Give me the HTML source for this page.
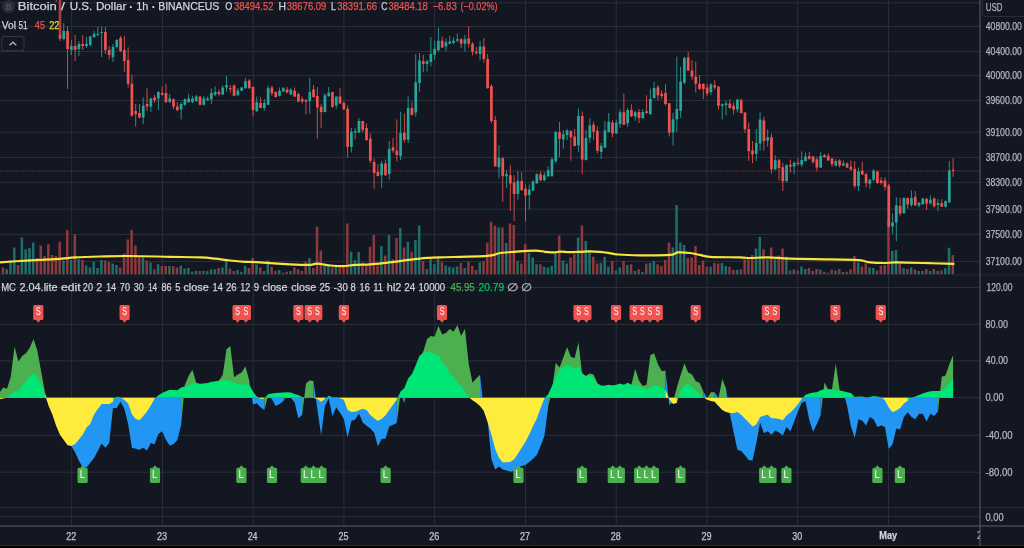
<!DOCTYPE html>
<html><head><meta charset="utf-8"><title>BTCUSD chart</title>
<style>
html,body{margin:0;padding:0;background:#131722;}
body{width:1024px;height:548px;overflow:hidden;position:relative;}
svg.main{position:absolute;left:0;top:0;}
.lb{font:10px "Liberation Sans",Arial,sans-serif;fill:#fff;}
.ax{font:9.8px "Liberation Sans",Arial,sans-serif;fill:#b2b5be;}
.tx{font:10.3px "Liberation Sans",Arial,sans-serif;fill:#b2b5be;text-anchor:middle;}
.t{font-family:"Liberation Sans",Arial,sans-serif;stroke-width:0.25px;}
</style></head>
<body>
<svg class="main" width="1024" height="548" viewBox="0 0 1024 548">
<rect width="1024" height="548" fill="#131722"/>
<path d="M0 2.8H980M0 26.5H980M0 51.5H980M0 75.5H980M0 100.5H980M0 132.2H980M0 157.4H980M0 182.4H980M0 209.1H980M0 234.4H980M0 261.4H980M0 287.4H980M0 324.4H980M0 360.8H980M0 397.7H980M0 435.3H980M0 472.2H980M0 516.6H980M71.7 0V525.5M162.45 0V525.5M253.2 0V525.5M343.95 0V525.5M434.7 0V525.5M525.45 0V525.5M616.2 0V525.5M706.95 0V525.5M797.7 0V525.5M888.45 0V525.5" stroke="#2b2f3c" stroke-width="1" fill="none"/>
<path d="M5.47 269.3h2.5V274.3h-2.5zM9.25 259.9h2.5V274.3h-2.5zM13.04 247.4h2.5V274.3h-2.5zM20.61 237.4h2.5V274.3h-2.5zM24.39 249.3h2.5V274.3h-2.5zM28.18 248h2.5V274.3h-2.5zM31.96 242.4h2.5V274.3h-2.5zM62.23 260.5h2.5V274.3h-2.5zM69.8 259.9h2.5V274.3h-2.5zM77.37 259.3h2.5V274.3h-2.5zM84.94 265.5h2.5V274.3h-2.5zM88.72 267.4h2.5V274.3h-2.5zM92.51 261.8h2.5V274.3h-2.5zM96.29 268h2.5V274.3h-2.5zM100.08 259.9h2.5V274.3h-2.5zM111.43 263.6h2.5V274.3h-2.5zM115.21 264.9h2.5V274.3h-2.5zM141.7 257.4h2.5V274.3h-2.5zM149.27 262.4h2.5V274.3h-2.5zM156.84 264.3h2.5V274.3h-2.5zM168.19 266.1h2.5V274.3h-2.5zM179.55 265.5h2.5V274.3h-2.5zM183.33 268.6h2.5V274.3h-2.5zM187.12 268h2.5V274.3h-2.5zM190.9 271.8h2.5V274.3h-2.5zM194.68 271.1h2.5V274.3h-2.5zM202.25 271.1h2.5V274.3h-2.5zM206.04 271.1h2.5V274.3h-2.5zM209.82 269.3h2.5V274.3h-2.5zM213.61 269.3h2.5V274.3h-2.5zM221.17 267.4h2.5V274.3h-2.5zM224.96 261.1h2.5V274.3h-2.5zM236.31 269.9h2.5V274.3h-2.5zM240.1 271.8h2.5V274.3h-2.5zM243.88 266.1h2.5V274.3h-2.5zM255.23 264.6h2.5V274.3h-2.5zM262.8 271.1h2.5V274.3h-2.5zM266.59 260.5h2.5V274.3h-2.5zM277.94 269.9h2.5V274.3h-2.5zM281.72 272.8h2.5V274.3h-2.5zM289.29 271.1h2.5V274.3h-2.5zM308.21 258h2.5V274.3h-2.5zM323.35 263.6h2.5V274.3h-2.5zM327.14 264.3h2.5V274.3h-2.5zM334.7 266.8h2.5V274.3h-2.5zM349.84 251.8h2.5V274.3h-2.5zM353.63 259.9h2.5V274.3h-2.5zM357.41 251.8h2.5V274.3h-2.5zM380.12 246.1h2.5V274.3h-2.5zM387.68 234.9h2.5V274.3h-2.5zM399.04 228h2.5V274.3h-2.5zM406.61 241.8h2.5V274.3h-2.5zM414.17 239.9h2.5V274.3h-2.5zM417.96 225.5h2.5V274.3h-2.5zM425.53 269h2.5V274.3h-2.5zM429.31 259.3h2.5V274.3h-2.5zM433.1 264.3h2.5V274.3h-2.5zM436.88 258.6h2.5V274.3h-2.5zM444.45 265.5h2.5V274.3h-2.5zM448.23 266.8h2.5V274.3h-2.5zM452.02 267.4h2.5V274.3h-2.5zM455.8 266.5h2.5V274.3h-2.5zM463.37 268h2.5V274.3h-2.5zM478.51 262.4h2.5V274.3h-2.5zM497.43 227.4h2.5V274.3h-2.5zM505 243h2.5V274.3h-2.5zM516.35 261.1h2.5V274.3h-2.5zM527.7 253h2.5V274.3h-2.5zM531.49 257.4h2.5V274.3h-2.5zM535.27 264.3h2.5V274.3h-2.5zM542.84 266.8h2.5V274.3h-2.5zM546.62 267.4h2.5V274.3h-2.5zM550.41 265.8h2.5V274.3h-2.5zM554.19 253.6h2.5V274.3h-2.5zM561.76 260.5h2.5V274.3h-2.5zM565.55 263.6h2.5V274.3h-2.5zM576.9 237.4h2.5V274.3h-2.5zM584.47 241.1h2.5V274.3h-2.5zM588.25 249.9h2.5V274.3h-2.5zM599.6 263h2.5V274.3h-2.5zM603.39 256.8h2.5V274.3h-2.5zM607.17 266.8h2.5V274.3h-2.5zM614.74 270.5h2.5V274.3h-2.5zM618.53 267.4h2.5V274.3h-2.5zM626.1 264.9h2.5V274.3h-2.5zM633.66 271.1h2.5V274.3h-2.5zM641.23 271.8h2.5V274.3h-2.5zM648.8 263h2.5V274.3h-2.5zM652.59 261.1h2.5V274.3h-2.5zM671.51 247.4h2.5V274.3h-2.5zM675.29 205h2.5V274.3h-2.5zM679.08 242.4h2.5V274.3h-2.5zM682.86 244.9h2.5V274.3h-2.5zM709.35 266.8h2.5V274.3h-2.5zM720.7 263h2.5V274.3h-2.5zM724.49 266.1h2.5V274.3h-2.5zM735.84 269.9h2.5V274.3h-2.5zM754.76 248.6h2.5V274.3h-2.5zM758.55 236.8h2.5V274.3h-2.5zM766.11 259.3h2.5V274.3h-2.5zM773.68 259.3h2.5V274.3h-2.5zM785.04 256.8h2.5V274.3h-2.5zM792.6 269.5h2.5V274.3h-2.5zM800.17 266.5h2.5V274.3h-2.5zM803.96 269h2.5V274.3h-2.5zM819.09 269.5h2.5V274.3h-2.5zM834.23 270.5h2.5V274.3h-2.5zM841.8 272h2.5V274.3h-2.5zM856.94 262.4h2.5V274.3h-2.5zM868.29 267.4h2.5V274.3h-2.5zM872.07 268h2.5V274.3h-2.5zM891 251h2.5V274.3h-2.5zM894.78 250h2.5V274.3h-2.5zM902.35 268.2h2.5V274.3h-2.5zM909.92 267.4h2.5V274.3h-2.5zM917.49 271.1h2.5V274.3h-2.5zM921.27 271.1h2.5V274.3h-2.5zM928.84 271.1h2.5V274.3h-2.5zM936.41 271.1h2.5V274.3h-2.5zM943.98 268.2h2.5V274.3h-2.5zM947.76 247.8h2.5V274.3h-2.5z" fill="#1f6e69"/>
<path d="M1.69 267.4h2.5V274.3h-2.5zM16.82 264.9h2.5V274.3h-2.5zM35.74 258h2.5V274.3h-2.5zM39.53 245.5h2.5V274.3h-2.5zM43.31 256.1h2.5V274.3h-2.5zM47.1 244.3h2.5V274.3h-2.5zM50.88 254.9h2.5V274.3h-2.5zM54.67 256.1h2.5V274.3h-2.5zM58.45 241.8h2.5V274.3h-2.5zM66.02 229.9h2.5V274.3h-2.5zM73.59 234.3h2.5V274.3h-2.5zM81.16 259.9h2.5V274.3h-2.5zM103.86 260.5h2.5V274.3h-2.5zM107.65 261.8h2.5V274.3h-2.5zM119 267.4h2.5V274.3h-2.5zM122.78 253.6h2.5V274.3h-2.5zM126.57 239.5h2.5V274.3h-2.5zM130.35 229.9h2.5V274.3h-2.5zM134.14 245.5h2.5V274.3h-2.5zM137.92 257.4h2.5V274.3h-2.5zM145.49 260.5h2.5V274.3h-2.5zM153.06 269.3h2.5V274.3h-2.5zM160.63 266.1h2.5V274.3h-2.5zM164.41 266.1h2.5V274.3h-2.5zM171.98 266.1h2.5V274.3h-2.5zM175.76 267.4h2.5V274.3h-2.5zM198.47 271.1h2.5V274.3h-2.5zM217.39 268h2.5V274.3h-2.5zM228.74 268.6h2.5V274.3h-2.5zM232.53 271.1h2.5V274.3h-2.5zM247.66 268h2.5V274.3h-2.5zM251.45 258h2.5V274.3h-2.5zM259.02 267.4h2.5V274.3h-2.5zM270.37 266.8h2.5V274.3h-2.5zM274.16 271.1h2.5V274.3h-2.5zM285.51 271.8h2.5V274.3h-2.5zM293.08 267.4h2.5V274.3h-2.5zM296.86 269.3h2.5V274.3h-2.5zM300.65 271.1h2.5V274.3h-2.5zM304.43 261.8h2.5V274.3h-2.5zM312 268h2.5V274.3h-2.5zM315.78 226.8h2.5V274.3h-2.5zM319.57 250.5h2.5V274.3h-2.5zM330.92 267.4h2.5V274.3h-2.5zM338.49 267.4h2.5V274.3h-2.5zM342.27 266.8h2.5V274.3h-2.5zM346.06 223.6h2.5V274.3h-2.5zM361.19 262.4h2.5V274.3h-2.5zM364.98 265.5h2.5V274.3h-2.5zM368.76 246.8h2.5V274.3h-2.5zM372.55 234.9h2.5V274.3h-2.5zM376.33 265.5h2.5V274.3h-2.5zM383.9 255.5h2.5V274.3h-2.5zM391.47 259.3h2.5V274.3h-2.5zM395.25 238h2.5V274.3h-2.5zM402.82 247.4h2.5V274.3h-2.5zM410.39 251.8h2.5V274.3h-2.5zM421.74 261.1h2.5V274.3h-2.5zM440.66 261.8h2.5V274.3h-2.5zM459.59 263h2.5V274.3h-2.5zM467.15 261.8h2.5V274.3h-2.5zM470.94 265.8h2.5V274.3h-2.5zM474.72 269.9h2.5V274.3h-2.5zM482.29 261.1h2.5V274.3h-2.5zM486.08 242.4h2.5V274.3h-2.5zM489.86 221.8h2.5V274.3h-2.5zM493.64 225.5h2.5V274.3h-2.5zM501.21 227.4h2.5V274.3h-2.5zM508.78 223.6h2.5V274.3h-2.5zM512.57 224.9h2.5V274.3h-2.5zM520.13 263.6h2.5V274.3h-2.5zM523.92 244.3h2.5V274.3h-2.5zM539.06 264.3h2.5V274.3h-2.5zM557.98 235.5h2.5V274.3h-2.5zM569.33 257.4h2.5V274.3h-2.5zM573.11 254.3h2.5V274.3h-2.5zM580.68 225.5h2.5V274.3h-2.5zM592.04 256.8h2.5V274.3h-2.5zM595.82 263.6h2.5V274.3h-2.5zM610.96 261.1h2.5V274.3h-2.5zM622.31 261.1h2.5V274.3h-2.5zM629.88 264.3h2.5V274.3h-2.5zM637.45 269.3h2.5V274.3h-2.5zM645.02 263.6h2.5V274.3h-2.5zM656.37 264.3h2.5V274.3h-2.5zM660.15 266.1h2.5V274.3h-2.5zM663.94 259.9h2.5V274.3h-2.5zM667.72 242.4h2.5V274.3h-2.5zM686.64 258h2.5V274.3h-2.5zM690.43 257.4h2.5V274.3h-2.5zM694.21 246.1h2.5V274.3h-2.5zM698 264.9h2.5V274.3h-2.5zM701.78 260.5h2.5V274.3h-2.5zM705.57 266.8h2.5V274.3h-2.5zM713.13 263h2.5V274.3h-2.5zM716.92 263.6h2.5V274.3h-2.5zM728.27 266.8h2.5V274.3h-2.5zM732.06 269.9h2.5V274.3h-2.5zM739.62 269.3h2.5V274.3h-2.5zM743.41 259.3h2.5V274.3h-2.5zM747.19 259.3h2.5V274.3h-2.5zM750.98 254.9h2.5V274.3h-2.5zM762.33 249.3h2.5V274.3h-2.5zM769.9 247.4h2.5V274.3h-2.5zM777.47 255.5h2.5V274.3h-2.5zM781.25 248.6h2.5V274.3h-2.5zM788.82 270.5h2.5V274.3h-2.5zM796.39 270.5h2.5V274.3h-2.5zM807.74 268h2.5V274.3h-2.5zM811.53 271.1h2.5V274.3h-2.5zM815.31 269h2.5V274.3h-2.5zM822.88 271.8h2.5V274.3h-2.5zM826.66 272.8h2.5V274.3h-2.5zM830.45 269.6h2.5V274.3h-2.5zM838.02 269h2.5V274.3h-2.5zM845.58 271.8h2.5V274.3h-2.5zM849.37 269.6h2.5V274.3h-2.5zM853.15 256.1h2.5V274.3h-2.5zM860.72 266.5h2.5V274.3h-2.5zM864.51 263.6h2.5V274.3h-2.5zM875.86 270.5h2.5V274.3h-2.5zM879.64 265.8h2.5V274.3h-2.5zM883.43 264.9h2.5V274.3h-2.5zM887.21 222h2.5V274.3h-2.5zM898.56 263.9h2.5V274.3h-2.5zM906.13 268.9h2.5V274.3h-2.5zM913.7 269.5h2.5V274.3h-2.5zM925.05 268.9h2.5V274.3h-2.5zM932.62 268.9h2.5V274.3h-2.5zM940.19 270.4h2.5V274.3h-2.5zM951.54 255h2.5V274.3h-2.5z" fill="#8c3a3d"/>
<path d="M0 262.4C3.33 262.17 13.33 261.42 20 261C26.67 260.58 33 260.3 40 259.9C47 259.5 56.17 259.02 62 258.6C67.83 258.18 68.67 257.75 75 257.4C81.33 257.05 91.17 256.73 100 256.5C108.83 256.27 116.33 255.95 128 256C139.67 256.05 158 256.57 170 256.8C182 257.03 192.5 257.1 200 257.4C207.5 257.7 210 258.08 215 258.6C220 259.12 225 259.97 230 260.5C235 261.03 240.67 261.52 245 261.8C249.33 262.08 248.5 261.78 256 262.2C263.5 262.62 281 263.85 290 264.3C299 264.75 305.5 265.02 310 264.9C314.5 264.78 313.67 263.5 317 263.6C320.33 263.7 325.67 265.08 330 265.5C334.33 265.92 338.83 266.2 343 266.1C347.17 266 350.5 265.2 355 264.9C359.5 264.6 365.17 264.62 370 264.3C374.83 263.98 379 263.53 384 263C389 262.47 394 261.83 400 261.1C406 260.37 413.33 259.22 420 258.6C426.67 257.98 433.33 257.7 440 257.4C446.67 257.1 452.5 257.02 460 256.8C467.5 256.58 479.33 256.42 485 256.1C490.67 255.78 491.5 255.42 494 254.9C496.5 254.38 497 253.48 500 253C503 252.52 506.17 252.4 512 252C517.83 251.6 529.5 250.63 535 250.6C540.5 250.57 541.67 251.5 545 251.8C548.33 252.1 552.5 252.42 555 252.4C557.5 252.38 557.5 251.75 560 251.7C562.5 251.65 566.67 252.08 570 252.1C573.33 252.12 576.67 251.93 580 251.8C583.33 251.67 586.67 251.3 590 251.3C593.33 251.3 597 251.55 600 251.8C603 252.05 605 252.35 608 252.8C611 253.25 612.67 254.08 618 254.5C623.33 254.92 631.33 255.23 640 255.3C648.67 255.37 663.67 255.38 670 254.9C676.33 254.42 674.67 252.72 678 252.4C681.33 252.08 686.33 252.58 690 253C693.67 253.42 696.67 254.27 700 254.9C703.33 255.53 703.33 256.38 710 256.8C716.67 257.22 733.33 257.2 740 257.4C746.67 257.6 745.33 258 750 258C754.67 258 761.33 257.3 768 257.4C774.67 257.5 779.67 258.28 790 258.6C800.33 258.92 819.17 259.08 830 259.3C840.83 259.52 849.67 259.7 855 259.9C860.33 260.1 859.5 260.08 862 260.5C864.5 260.92 866.17 261.98 870 262.4C873.83 262.82 880.67 263 885 263C889.33 263 888.5 262.37 896 262.4C903.5 262.43 920.42 262.95 930 263.2C939.58 263.45 949.58 263.78 953.5 263.9" fill="none" stroke="#f7e43c" stroke-width="2.2" stroke-linejoin="round" stroke-linecap="round"/>
<path d="M63.78 23V40.5M71.35 40V55M78.92 41V56M86.49 37V48M90.27 36V46.5M94.06 31V38M97.84 27V36.5M101.63 26.5V57M112.98 44V62M116.76 39V48.5M143.25 97.5V124M150.82 97.5V112M158.39 91V110M169.74 93.9V103M181.1 102V119.4M184.88 98.4V105.7M188.67 93.9V103M192.45 95.7V103M196.23 94.8V102M203.8 95.7V105.5M207.59 96.6V101M211.37 88.4V104M215.16 86.6V96M222.72 85.6V95.2M226.51 76V91.4M237.86 88.2V95.5M241.65 87V91M245.43 78V88.8M256.78 96.5V111.8M264.35 99V110.8M268.14 85.6V105M279.49 87.5V96.5M283.27 87V92M290.84 88.2V95.2M309.76 78V113.7M324.9 93.4V112.5M328.69 87V97M336.25 96.6V108.7M351.39 128V152.5M355.18 128V139.4M358.96 118.3V133M381.67 160.7V188.2M389.23 140.9V179.4M400.59 111.7V160M408.16 96.4V143M415.72 54V116.8M419.51 53.2V91.6M427.08 59.8V71.4M430.86 37.1V66.3M434.65 40.8V59.8M438.43 27.6V51.7M446 38.6V51M449.78 35.7V44.5M453.57 37.1V44.4M457.35 33.5V42.2M464.92 35V51.7M480.06 40.7V60.4M498.98 145V178.3M506.55 170.2V187.8M517.9 171.2V199.6M529.25 184.6V209.5M533.04 180.3V190.5M536.82 173.3V184M544.39 172.2V181.3M548.17 166.2V177.3M551.96 157.2V176.5M555.74 131V163.2M563.31 130V148.7M567.1 129.1V140M578.45 108.7V151.9M586.02 129.9V160.5M589.8 118.2V142.8M601.15 143V159M604.94 121.1V147.8M608.72 113V132.5M616.29 119.6V134M620.08 109.4V127.7M627.64 108V127M635.21 110.9V120.8M642.78 109.1V119.3M650.35 88.7V114.5M654.14 82.1V98.5M673.06 112.8V145.6M676.84 56.6V132M680.63 66.8V117.9M684.41 56.6V84M710.9 83.1V94.8M722.25 103.6V119.6M726.04 100.7V115.3M737.39 99.2V112.3M756.31 129V160.9M760.1 112.3V150.6M767.66 129.4V146.7M775.23 155.1V170M786.59 164V181.8M794.15 161.5V174.3M801.72 151.4V166.7M805.51 152.7V161.5M820.64 152.1V168.1M835.78 159.2V166.8M843.35 160.4V166M858.49 167.5V191M869.84 178.9V188.7M873.62 169V181.3M892.55 213.4V233.9M896.33 197V241.3M903.9 197.5V213.5M911.47 190.3V206.8M919.04 201.8V207.2M922.82 197.8V205M930.39 195.3V204.3M937.96 199.2V211.3M945.53 200.4V207.5M949.31 160.9V202.6" stroke="#26a69a" stroke-opacity="0.85" stroke-width="1" fill="none"/>
<path d="M60 -5V41M67.57 26.5V89M75.14 35V61M82.71 35.5V50M105.41 27V54M109.2 46V59M120.55 36V52M124.33 36V72M128.12 47.3V87.5M131.9 74.7V116.7M135.69 104V126.7M139.47 104V118.5M147.04 88.4V111M154.61 94.8V103M162.18 86.6V95.7M165.96 83.8V103M173.53 98.4V109.4M177.31 102V111.2M200.02 96.6V105.5M218.94 89.5V96.5M230.29 85V92.6M234.08 84.3V96.2M249.22 79.2V88.8M253 86.3V116.3M260.57 97.1V108.2M271.92 85.6V95.8M275.71 91.4V97.8M287.06 87V93.3M294.63 87.5V97.1M298.41 92.6V102.2M302.2 96.5V103.5M305.98 99V114.4M313.55 85V97.8M317.33 87V138.7M321.12 103.6V128M332.47 91.5V108M340.04 88.3V104M343.82 101V110M347.61 105.5V157.5M362.74 120.9V132.4M366.53 123.4V141M370.31 133.3V163M374.1 158.4V188.7M377.88 164.2V176.5M385.45 159.5V176M393.02 138V153M396.8 119.4V161.3M404.37 113.6V142.6M411.94 101.5V115.5M423.29 54.7V72.2M442.21 36.4V48M461.14 37.9V48M468.7 26.2V47.4M472.49 42.2V55.4M476.27 47V54.6M483.84 38V62.6M487.63 53.9V88.5M491.41 84.5V123M495.19 116V166.5M502.76 157.2V201.9M510.33 165.2V211M514.12 175.3V221M521.68 172.2V191M525.47 184.2V221M540.61 171.2V181.3M559.53 122V157.2M570.88 129.9V160.7M574.66 129.1V146.5M582.23 111.6V174.4M593.59 121.8V140M597.37 126.2V153.5M612.51 120.4V137.2M623.86 93.4V125M631.43 104.3V117M639 109.1V123M646.57 95.3V113.5M657.92 85V100.4M661.7 90.1V98.9M665.49 84.3V105.5M669.27 103V136.5M688.19 52.2V71M691.98 60.2V79.8M695.76 61.7V92.5M699.55 75.1V89.7M703.33 83.1V99.2M707.12 83.9V96.3M714.68 80.2V89.7M718.47 86V109.4M729.82 99.2V108.5M733.61 102.1V114.5M741.17 98.5V113.5M744.96 112.3V132.8M748.74 122.6V160.9M752.53 141V163.4M763.88 116.7V150.6M771.45 133.4V173.6M779.02 159V180.7M782.8 162.8V191M790.37 159.6V172.4M797.94 158.3V166M809.29 151.7V159.8M813.08 156V163.6M816.86 156.6V171.3M824.43 154V157.5M828.21 153.4V160.8M832 157.9V166.8M839.57 159.2V167.5M847.13 162.3V168M850.92 160.4V170.7M854.7 161.1V188.5M862.27 161.6V175M866.06 172.8V187.6M877.41 170.7V183.8M881.19 177.2V184.6M884.98 177.2V190.4M888.76 183.8V228M900.11 197.8V215.8M907.68 197.3V208.6M915.25 191V205.6M926.6 197.5V210M934.17 197.3V207.5M941.74 199.2V207M953.09 158.3V176.8" stroke="#ef5350" stroke-opacity="0.85" stroke-width="1" fill="none"/>
<path d="M62.43 31h2.7v8h-2.7zM70 46h2.7v4h-2.7zM77.57 44h2.7v5h-2.7zM85.14 43.7h2.7v2.3h-2.7zM88.92 36.5h2.7v8.5h-2.7zM92.71 34h2.7v3h-2.7zM96.49 34h2.7v1h-2.7zM100.28 32h2.7v1h-2.7zM111.63 47h2.7v10h-2.7zM115.41 40h2.7v7h-2.7zM141.9 105.7h2.7v11.9h-2.7zM149.47 98.4h2.7v8.2h-2.7zM157.04 92h2.7v6.4h-2.7zM168.39 98.4h2.7v3.6h-2.7zM179.75 104h2.7v5.4h-2.7zM183.53 99.3h2.7v5.5h-2.7zM187.32 98.4h2.7v3.6h-2.7zM191.1 98.4h2.7v3.6h-2.7zM194.88 96.6h2.7v4.4h-2.7zM202.45 98.4h2.7v6.4h-2.7zM206.24 98.4h2.7v1.9h-2.7zM210.02 93h2.7v6.3h-2.7zM213.81 92h2.7v2.8h-2.7zM221.37 87.5h2.7v7.1h-2.7zM225.16 85h2.7v2.5h-2.7zM236.51 90.7h2.7v4.5h-2.7zM240.3 87.5h2.7v3.2h-2.7zM244.08 81.2h2.7v7h-2.7zM255.43 102.2h2.7v9h-2.7zM263 102.9h2.7v5.1h-2.7zM266.79 88.2h2.7v16.6h-2.7zM278.14 90.7h2.7v5.1h-2.7zM281.92 88.2h2.7v3.2h-2.7zM289.49 89.5h2.7v5.1h-2.7zM308.41 92h2.7v9h-2.7zM323.55 95.3h2.7v16.7h-2.7zM327.34 92.8h2.7v3.2h-2.7zM334.9 96.6h2.7v8.9h-2.7zM350.04 131.7h2.7v15.3h-2.7zM353.83 131h2.7v1.4h-2.7zM357.61 120.9h2.7v11.5h-2.7zM380.32 163.6h2.7v11.7h-2.7zM387.88 149h2.7v25h-2.7zM399.24 132.7h2.7v23.3h-2.7zM406.81 107.9h2.7v31.8h-2.7zM414.37 82.3h2.7v30.1h-2.7zM418.16 60.5h2.7v22.5h-2.7zM425.73 61.2h2.7v2.9h-2.7zM429.51 53.9h2.7v8.1h-2.7zM433.3 48.8h2.7v5.9h-2.7zM437.08 40.8h2.7v9.5h-2.7zM444.65 42.2h2.7v4.4h-2.7zM448.43 41.5h2.7v2.2h-2.7zM452.22 40.8h2.7v2.2h-2.7zM456 39.3h2.7v1.5h-2.7zM463.57 39.3h2.7v4.4h-2.7zM478.71 46.6h2.7v7.3h-2.7zM497.63 158h2.7v9.2h-2.7zM505.2 174.3h2.7v2h-2.7zM516.55 181h2.7v13h-2.7zM527.9 189.6h2.7v5.4h-2.7zM531.69 181.4h2.7v9.1h-2.7zM535.47 174.3h2.7v9h-2.7zM543.04 175.3h2.7v5h-2.7zM546.82 170.2h2.7v6.1h-2.7zM550.61 159.2h2.7v17.1h-2.7zM554.39 132.1h2.7v29.1h-2.7zM561.96 134.2h2.7v5.3h-2.7zM565.75 130.6h2.7v4.4h-2.7zM577.1 116h2.7v29.3h-2.7zM584.67 137.9h2.7v22.2h-2.7zM588.45 125.5h2.7v12.3h-2.7zM599.8 146h2.7v5.9h-2.7zM603.59 130.6h2.7v16.9h-2.7zM607.37 121.8h2.7v10.2h-2.7zM614.94 122.6h2.7v10.9h-2.7zM618.73 112.3h2.7v11.7h-2.7zM626.29 110.1h2.7v13.2h-2.7zM633.86 112.2h2.7v4.2h-2.7zM641.43 112h2.7v5.9h-2.7zM649 98.9h2.7v15.3h-2.7zM652.79 88h2.7v10.2h-2.7zM671.71 119.2h2.7v13.2h-2.7zM675.49 109.1h2.7v10.1h-2.7zM679.28 81.4h2.7v29.4h-2.7zM683.06 58h2.7v24.8h-2.7zM709.55 84.6h2.7v7.3h-2.7zM720.9 104.3h2.7v1.5h-2.7zM724.69 103.6h2.7v1.4h-2.7zM736.04 99.4h2.7v10h-2.7zM754.96 143h2.7v10.8h-2.7zM758.75 119.6h2.7v24h-2.7zM766.31 137.2h2.7v3.2h-2.7zM773.88 160.2h2.7v9h-2.7zM785.24 165.3h2.7v16h-2.7zM792.8 162.8h2.7v3.8h-2.7zM800.37 160h2.7v4.8h-2.7zM804.16 156.5h2.7v4.5h-2.7zM819.29 156h2.7v11.5h-2.7zM834.43 161.1h2.7v4.4h-2.7zM842 163.6h2.7v1.9h-2.7zM857.14 171.3h2.7v14.7h-2.7zM868.49 179.7h2.7v4.1h-2.7zM872.27 170.7h2.7v9h-2.7zM891.2 222.4h2.7v4.1h-2.7zM894.98 205.2h2.7v17.2h-2.7zM902.55 197.9h2.7v15.3h-2.7zM910.12 197.9h2.7v7.1h-2.7zM917.69 202.8h2.7v2.7h-2.7zM921.47 198.5h2.7v5.8h-2.7zM929.04 199.8h2.7v3.8h-2.7zM936.61 203h2.7v2h-2.7zM944.18 201h2.7v5.8h-2.7zM947.96 170.4h2.7v32h-2.7z" fill="#26a69a"/>
<path d="M58.65 34.5h2.7v4.3h-2.7zM66.22 31h2.7v18h-2.7zM73.79 46h2.7v4h-2.7zM81.36 44h2.7v2h-2.7zM104.06 32h2.7v18h-2.7zM107.85 50h2.7v5h-2.7zM119.2 38h2.7v13h-2.7zM122.98 50h2.7v11h-2.7zM126.77 60h2.7v23.8h-2.7zM130.55 83.8h2.7v32h-2.7zM134.34 111h2.7v3h-2.7zM138.12 113h2.7v4.6h-2.7zM145.69 104h2.7v2.6h-2.7zM153.26 97.5h2.7v2.8h-2.7zM160.83 93h2.7v1.8h-2.7zM164.61 93h2.7v9h-2.7zM172.18 99.3h2.7v7.3h-2.7zM175.96 106.6h2.7v3.7h-2.7zM198.67 96.6h2.7v8.2h-2.7zM217.59 92h2.7v2h-2.7zM228.94 88h2.7v1.2h-2.7zM232.73 85.6h2.7v10.2h-2.7zM247.87 80.5h2.7v7.7h-2.7zM251.65 87h2.7v23h-2.7zM259.22 102.9h2.7v5.1h-2.7zM270.57 87.5h2.7v5.8h-2.7zM274.36 92h2.7v5.1h-2.7zM285.71 89.5h2.7v3.1h-2.7zM293.28 90.7h2.7v5.8h-2.7zM297.06 94h2.7v7.6h-2.7zM300.85 99h2.7v2.6h-2.7zM304.63 100.3h2.7v1.5h-2.7zM312.2 89.5h2.7v7.6h-2.7zM315.98 96h2.7v11.5h-2.7zM319.77 106.8h2.7v5.2h-2.7zM331.12 92.1h2.7v14.7h-2.7zM338.69 96.6h2.7v7h-2.7zM342.47 103h2.7v6.4h-2.7zM346.26 108.7h2.7v38.3h-2.7zM361.39 120.9h2.7v8.9h-2.7zM365.18 127.9h2.7v12.1h-2.7zM368.96 138.5h2.7v22.2h-2.7zM372.75 161.9h2.7v11.1h-2.7zM376.53 171.8h2.7v4.1h-2.7zM384.1 163.6h2.7v11.7h-2.7zM391.67 147.3h2.7v3.5h-2.7zM395.45 150.8h2.7v4.1h-2.7zM403.02 132.7h2.7v7h-2.7zM410.59 107.9h2.7v7.1h-2.7zM421.94 61.2h2.7v2.9h-2.7zM440.86 40.8h2.7v6.6h-2.7zM459.79 39.3h2.7v4.4h-2.7zM467.35 38.6h2.7v5.1h-2.7zM471.14 43.5h2.7v8.2h-2.7zM474.92 51.7h2.7v1.3h-2.7zM482.49 46.6h2.7v12.4h-2.7zM486.28 59h2.7v29.2h-2.7zM490.06 86h2.7v35h-2.7zM493.84 120h2.7v46.2h-2.7zM501.41 158.2h2.7v18.1h-2.7zM508.98 175.3h2.7v8.2h-2.7zM512.77 182.5h2.7v11.5h-2.7zM520.33 181h2.7v9h-2.7zM524.12 188.7h2.7v6.8h-2.7zM539.26 174.3h2.7v6h-2.7zM558.18 132.1h2.7v6.7h-2.7zM569.53 131.3h2.7v5.9h-2.7zM573.31 136.4h2.7v9.6h-2.7zM580.88 116h2.7v43.6h-2.7zM592.24 124.7h2.7v7.1h-2.7zM596.02 130.8h2.7v20h-2.7zM611.16 122.6h2.7v10.9h-2.7zM622.51 112.3h2.7v12.4h-2.7zM630.08 110.1h2.7v6.1h-2.7zM637.65 112h2.7v5.9h-2.7zM645.22 111.3h2.7v1.7h-2.7zM656.57 87.2h2.7v8.1h-2.7zM660.35 93.8h2.7v2.2h-2.7zM664.14 93h2.7v11h-2.7zM667.92 103.2h2.7v29.2h-2.7zM686.84 57.3h2.7v13.1h-2.7zM690.63 70.4h2.7v6.4h-2.7zM694.41 76.8h2.7v7h-2.7zM698.2 83.8h2.7v5.2h-2.7zM701.98 83.9h2.7v5.1h-2.7zM705.77 87.5h2.7v5.9h-2.7zM713.33 85.3h2.7v2.2h-2.7zM717.12 86.8h2.7v19h-2.7zM728.47 103.6h2.7v4.4h-2.7zM732.26 105.8h2.7v3.6h-2.7zM739.82 99.9h2.7v13.1h-2.7zM743.61 112.5h2.7v16.8h-2.7zM747.39 129.1h2.7v22.2h-2.7zM751.18 150.6h2.7v3.9h-2.7zM762.53 120.4h2.7v20.6h-2.7zM770.1 137.2h2.7v32h-2.7zM777.67 160.2h2.7v7.7h-2.7zM781.45 167.3h2.7v14h-2.7zM789.02 164.7h2.7v1.9h-2.7zM796.59 162.8h2.7v1.2h-2.7zM807.94 156.2h2.7v2.5h-2.7zM811.73 156.6h2.7v5.7h-2.7zM815.51 159.2h2.7v8.3h-2.7zM823.08 155.3h2.7v1.9h-2.7zM826.86 156h2.7v4.4h-2.7zM830.65 158.5h2.7v5.8h-2.7zM838.22 160.4h2.7v5.1h-2.7zM845.78 163.6h2.7v3.9h-2.7zM849.57 166.8h2.7v2.6h-2.7zM853.35 168.7h2.7v17.3h-2.7zM860.92 170.7h2.7v3.9h-2.7zM864.71 174h2.7v9.2h-2.7zM876.06 171.5h2.7v11.5h-2.7zM879.84 180.5h2.7v2.5h-2.7zM883.63 180.5h2.7v6.6h-2.7zM887.41 185.5h2.7v41h-2.7zM898.76 206h2.7v7.4h-2.7zM906.33 198.3h2.7v6.3h-2.7zM913.9 196.8h2.7v8.6h-2.7zM925.25 199h2.7v4.6h-2.7zM932.82 198.5h2.7v7.7h-2.7zM940.39 203h2.7v3.8h-2.7zM951.74 169.8h2.7v1.3h-2.7z" fill="#ef5350"/>
<rect x="58.65" y="0" width="2.7" height="34.5" fill="#a8403f"/>
<path d="M56.22 0V1.8" stroke="#ef5350" stroke-width="1"/>
<path d="M0 171H980" stroke="#ef5350" stroke-opacity="0.6" stroke-width="1" stroke-dasharray="1 1.3"/>
<defs><clipPath id="cp"><rect x="0" y="276" width="980" height="121.7"/></clipPath><clipPath id="cn"><rect x="0" y="397.7" width="980" height="109"/></clipPath></defs>
<path d="M-0.55 397.7L-0.55 392.9L3.24 387.5L7.02 388.8L10.8 376.5L14.59 346.4L18.37 361.5L22.16 356L25.94 353.3L29.73 347.8L33.51 338.9L37.29 350.5L41.08 371L44.86 391.6L44.86 397.7ZM181.1 397.7L181.1 425.1L184.88 384.7L188.67 375.8L192.45 369.7L196.23 382.7L200.02 384.5L203.8 384.17L207.59 383.58L211.37 382.5L215.16 381.58L218.94 380.6L222.72 375.1L226.51 349.2L230.29 346.1L234.08 377.2L237.86 374.54L241.65 372.4L245.43 366.3L249.22 380.6L249.22 397.7ZM264.35 397.7L264.35 410L268.14 395L268.14 397.7ZM283.27 397.7L283.27 401.2L287.06 394L290.84 397.65L290.84 397.7ZM302.2 397.7L302.2 414.8L305.98 383.4L309.76 380.3L313.55 381.3L313.55 397.7ZM396.8 397.7L396.8 423L400.59 393L400.59 397.7ZM404.37 397.7L404.37 403.2L408.16 385L411.94 376.56L415.72 370L419.51 358L423.29 351.4L427.08 339L430.86 336.1L434.65 336.8L438.43 325.8L442.21 334.6L446 333.1L449.78 329L453.57 331.7L457.35 325.1L461.14 336.1L464.92 328.8L468.7 363.8L472.49 382.8L476.27 378.4L480.06 374.7L480.06 397.7ZM548.17 397.7L548.17 406.7L551.96 390.95L555.74 362.8L559.53 367.6L563.31 357.4L567.1 347.1L570.88 357.09L574.66 358L578.45 342.3L582.23 375.1L586.02 375.8L589.8 373.5L593.59 374.5L597.37 383.27L601.15 385.45L604.94 386L608.72 386L612.51 385.75L616.29 385.37L620.08 385L623.86 385.39L627.64 385.76L631.43 384.76L635.21 369L639 380.6L642.78 386.1L646.57 384.7L650.35 355.3L654.14 353.3L657.92 364.2L661.7 371L665.49 370.8L665.49 397.7ZM673.06 397.7L673.06 402L676.84 387.5L680.63 375.1L684.41 363.5L688.19 372.4L691.98 374.5L695.76 381.3L699.55 382.7L703.33 391.4L703.33 397.7ZM707.12 397.7L707.12 398.5L710.9 392.2L714.68 392.2L714.68 397.7ZM718.47 397.7L718.47 398.3L722.25 379.1L726.04 388.5L726.04 397.7ZM820.64 397.7L820.64 415.3L824.43 382.5L828.21 389.2L832 389.2L835.78 363.4L839.57 390L843.35 392L843.35 397.7ZM937.96 397.7L937.96 411.4L941.74 376.7L945.53 375.6L949.31 364.19L953.09 355.2L953.09 397.7Z" fill="#4caf50"/><path d="M44.86 397.7L44.86 391.6L48.65 404L52.43 412.23L56.22 422.44L60 430L63.78 437L67.57 443L71.35 445.9L75.14 452.5L78.92 460.7L82.71 467.5L86.49 467.5L90.27 462.75L94.06 457.9L97.84 451.1L101.63 443.6L105.41 447.7L109.2 442.9L112.98 408L116.76 408L120.55 401.8L124.33 408.7L128.12 423.7L131.9 447.7L135.69 448.71L139.47 449.7L143.25 447.7L147.04 450.4L150.82 442.9L154.61 444.2L158.39 434.1L162.18 431.3L165.96 440.1L169.74 445.6L173.53 444.2L177.31 440.1L181.1 425.1L181.1 397.7ZM249.22 397.7L249.22 380.6L253 404.6L256.78 403.2L260.57 407.3L264.35 410L264.35 397.7ZM268.14 397.7L268.14 395L271.92 399.21L275.71 406L279.49 403.9L283.27 401.2L283.27 397.7ZM290.84 397.7L290.84 397.65L294.63 402.5L298.41 418.3L302.2 414.8L302.2 397.7ZM313.55 397.7L313.55 381.3L317.33 408.7L321.12 435.4L324.9 406.07L328.69 398.4L332.47 416.2L336.25 407.3L340.04 412.8L343.82 418.9L347.61 437.4L351.39 421L355.18 419.6L358.96 413.5L362.74 422.4L366.53 425.8L370.31 428.51L374.1 432.6L377.88 446.3L381.67 438.8L385.45 438.8L389.23 426.5L393.02 424.66L396.8 423L396.8 397.7ZM400.59 397.7L400.59 393L404.37 403.2L404.37 397.7ZM480.06 397.7L480.06 374.7L483.84 411L487.63 421.3L491.41 459.2L495.19 469.5L498.98 466.5L502.76 469.5L506.55 470.51L510.33 471.63L514.12 471.07L517.9 467.3L521.68 466.05L525.47 465.1L529.25 462.05L533.04 458.67L536.82 454.9L540.61 446.1L544.39 435.9L548.17 406.7L548.17 397.7ZM665.49 397.7L665.49 370.8L669.27 405L673.06 402L673.06 397.7ZM703.33 397.7L703.33 391.4L707.12 398.5L707.12 397.7ZM714.68 397.7L714.68 392.2L718.47 398.3L718.47 397.7ZM726.04 397.7L726.04 388.5L729.82 413.5L733.61 431.9L737.39 449.7L741.17 451.1L744.96 455.2L748.74 460L752.53 460.4L756.31 442.9L760.1 422.4L763.88 433.3L767.66 431.3L771.45 434.7L775.23 430.6L779.02 432.6L782.8 435.4L786.59 427.1L790.37 431.3L794.15 421.7L797.94 411.4L801.72 402.8L805.51 401.3L809.29 420L813.08 431.7L816.86 423.9L820.64 415.3L820.64 397.7ZM843.35 397.7L843.35 392L847.13 405.9L850.92 426.3L854.7 438L858.49 419.2L862.27 420.8L866.06 425.5L869.84 416.9L873.62 419.2L877.41 427L881.19 425.5L884.98 427L888.76 448.9L892.55 444.2L896.33 428.6L900.11 429.4L903.9 416.9L907.68 412.2L911.47 416.9L915.25 419.2L919.04 413.8L922.82 413.8L926.6 421.6L930.39 413.8L934.17 416.1L937.96 411.4L937.96 397.7Z" fill="#2196f3"/>
<path d="M7.02 397.7L7.02 397.78L10.8 394.45L14.59 391.6L18.37 391.6L22.16 385.28L25.94 382L29.73 375.8L33.51 373.5L37.29 377.2L41.08 384.7L44.86 394.3L44.86 397.7ZM112.98 397.7L112.98 401.8L116.76 396.5L120.55 397.14L120.55 397.7ZM154.61 397.7L154.61 398.5L158.39 395.34L162.18 392.9L165.96 391.22L169.74 389.8L173.53 390.04L177.31 390.2L181.1 387.5L184.88 386.55L188.67 385.4L192.45 383.59L196.23 383.11L200.02 383.8L203.8 383.51L207.59 382.93L211.37 381.7L215.16 381.48L218.94 380.99L222.72 380.29L226.51 380.21L230.29 380.9L234.08 382.62L237.86 383.78L241.65 384.4L245.43 384.58L249.22 384.7L253 391.6L256.78 396.5L256.78 397.7ZM264.35 397.7L264.35 398.5L268.14 394.3L271.92 393.6L275.71 392.9L279.49 392.7L283.27 392.4L287.06 392.28L290.84 392.5L294.63 393.88L298.41 395L302.2 397L302.2 397.7ZM305.98 397.7L305.98 398.2L309.76 397.53L309.76 397.7ZM324.9 397.7L324.9 399L328.69 395.7L332.47 397.3L336.25 397.27L336.25 397.7ZM396.8 397.7L396.8 399.8L400.59 391.6L404.37 387.9L408.16 378.4L411.94 374L415.72 365.3L419.51 355.8L423.29 352.89L427.08 351.67L430.86 352.4L434.65 353.91L438.43 355.8L442.21 361.31L446 366.87L449.78 374L453.57 376.97L457.35 382.8L461.14 386.06L464.92 391.5L468.7 397.14L468.7 397.7ZM544.39 397.7L544.39 398.62L548.17 394.3L551.96 386.1L555.74 376.5L559.53 369.7L563.31 366.9L567.1 364.9L570.88 366.3L574.66 369L578.45 366.3L582.23 373.1L586.02 376.5L589.8 375.8L593.59 377.9L597.37 384L601.15 386.1L604.94 385.4L608.72 384.7L612.51 385.4L616.29 384.7L620.08 383.4L623.86 384.7L627.64 382.7L631.43 384.7L635.21 385.4L639 386.1L642.78 387.5L646.57 389.5L650.35 387.5L654.14 385.4L657.92 386.1L661.7 387.5L665.49 390.2L665.49 397.7ZM676.84 397.7L676.84 403L680.63 390.2L684.41 385.4L688.19 384L691.98 386.8L695.76 390.9L699.55 393.55L703.33 397.25L703.33 397.7ZM801.72 397.7L801.72 398.8L805.51 394.7L809.29 393.46L813.08 392.57L816.86 392.3L820.64 390.3L824.43 389.2L828.21 389.45L832 389.7L835.78 390.13L839.57 390.63L843.35 391.3L847.13 392.27L850.92 393.1L854.7 397.08L858.49 396.6L862.27 396.6L866.06 397.51L869.84 396.89L873.62 395.9L877.41 396.6L881.19 397.27L881.19 397.7ZM907.68 397.7L907.68 400.81L911.47 397.63L915.25 396.49L919.04 394.92L922.82 393.4L926.6 392.13L930.39 391.3L934.17 391.09L937.96 390.9L941.74 390.8L945.53 387.5L949.31 383L953.09 378.8L953.09 397.7Z" fill="#00e676"/><path d="M-0.55 397.7L-0.55 399L3.24 398.44L7.02 397.78L7.02 397.7ZM44.86 397.7L44.86 394.3L48.65 406L52.43 414.81L56.22 426.06L60 434.7L63.78 440.1L67.57 445.3L71.35 445.9L75.14 443.97L78.92 439.44L82.71 434.7L86.49 427.6L90.27 423.7L94.06 414.5L97.84 408.89L101.63 403.9L105.41 403.9L109.2 403.9L112.98 401.8L112.98 397.7ZM120.55 397.7L120.55 397.14L124.33 400.03L128.12 403.2L131.9 414.2L135.69 419L139.47 420.3L143.25 416.04L147.04 411.4L150.82 405.4L154.61 398.5L154.61 397.7ZM256.78 397.7L256.78 396.5L260.57 399L264.35 398.5L264.35 397.7ZM302.2 397.7L302.2 397L305.98 398.2L305.98 397.7ZM309.76 397.7L309.76 397.53L313.55 397.96L317.33 399L321.12 401.8L324.9 399L324.9 397.7ZM336.25 397.7L336.25 397.27L340.04 398.33L343.82 399.8L347.61 410L351.39 412.1L355.18 411.64L358.96 410.24L362.74 408.7L366.53 410L370.31 415.02L374.1 418.3L377.88 421L381.67 418.75L385.45 415.56L389.23 410L393.02 404.65L396.8 399.8L396.8 397.7ZM468.7 397.7L468.7 397.14L472.49 400.13L476.27 402.87L480.06 406L483.84 411L487.63 422L491.41 434.4L495.19 449L498.98 457.8L502.76 462.4L506.55 462.16L510.33 461.9L514.12 459.2L517.9 453.85L521.68 447.79L525.47 441.7L529.25 434.53L533.04 425.95L536.82 418.4L540.61 408.1L544.39 398.62L544.39 397.7ZM665.49 397.7L665.49 390.2L669.27 399L673.06 403.9L676.84 403L676.84 397.7ZM703.33 397.7L703.33 397.25L707.12 399.8L710.9 400.89L714.68 401.8L718.47 405.9L722.25 410L726.04 412.1L729.82 412.92L733.61 413.04L737.39 412.1L741.17 414.8L744.96 418.75L748.74 422.4L752.53 426.5L756.31 424.4L760.1 416.9L763.88 415.76L767.66 414.8L771.45 418.3L775.23 418.3L779.02 418.89L782.8 420.3L786.59 415.5L790.37 412.38L794.15 408.7L797.94 404.21L801.72 398.8L801.72 397.7ZM881.19 397.7L881.19 397.27L884.98 400.23L888.76 407.5L892.55 412.2L896.33 410.6L900.11 408.11L903.9 403.6L907.68 400.81L907.68 397.7Z" fill="#ffeb3b"/>
<path d="M34.7 304.9H41.9Q43.4 304.9 43.4 306.4V318.5Q43.4 320 41.9 320H40.5L38.3 322.8L36.1 320H34.7Q33.2 320 33.2 318.5V306.4Q33.2 304.9 34.7 304.9Z" fill="#f0524f"/>
<text x="35.93" y="315" class="lb" textLength="4.75" lengthAdjust="spacingAndGlyphs">S</text>
<path d="M121 304.9H128.2Q129.7 304.9 129.7 306.4V318.5Q129.7 320 128.2 320H126.8L124.6 322.8L122.4 320H121Q119.5 320 119.5 318.5V306.4Q119.5 304.9 121 304.9Z" fill="#f0524f"/>
<text x="122.23" y="315" class="lb" textLength="4.75" lengthAdjust="spacingAndGlyphs">S</text>
<path d="M234 304.9H241.2Q242.7 304.9 242.7 306.4V318.5Q242.7 320 241.2 320H239.8L237.6 322.8L235.4 320H234Q232.5 320 232.5 318.5V306.4Q232.5 304.9 234 304.9Z" fill="#f0524f"/>
<text x="235.23" y="315" class="lb" textLength="4.75" lengthAdjust="spacingAndGlyphs">S</text>
<path d="M242.3 304.9H249.5Q251 304.9 251 306.4V318.5Q251 320 249.5 320H248.1L245.9 322.8L243.7 320H242.3Q240.8 320 240.8 318.5V306.4Q240.8 304.9 242.3 304.9Z" fill="#f0524f"/>
<text x="243.53" y="315" class="lb" textLength="4.75" lengthAdjust="spacingAndGlyphs">S</text>
<path d="M294.8 304.9H302Q303.5 304.9 303.5 306.4V318.5Q303.5 320 302 320H300.6L298.4 322.8L296.2 320H294.8Q293.3 320 293.3 318.5V306.4Q293.3 304.9 294.8 304.9Z" fill="#f0524f"/>
<text x="296.03" y="315" class="lb" textLength="4.75" lengthAdjust="spacingAndGlyphs">S</text>
<path d="M306.1 304.9H313.3Q314.8 304.9 314.8 306.4V318.5Q314.8 320 313.3 320H311.9L309.7 322.8L307.5 320H306.1Q304.6 320 304.6 318.5V306.4Q304.6 304.9 306.1 304.9Z" fill="#f0524f"/>
<text x="307.33" y="315" class="lb" textLength="4.75" lengthAdjust="spacingAndGlyphs">S</text>
<path d="M313.7 304.9H320.9Q322.4 304.9 322.4 306.4V318.5Q322.4 320 320.9 320H319.5L317.3 322.8L315.1 320H313.7Q312.2 320 312.2 318.5V306.4Q312.2 304.9 313.7 304.9Z" fill="#f0524f"/>
<text x="314.93" y="315" class="lb" textLength="4.75" lengthAdjust="spacingAndGlyphs">S</text>
<path d="M340.3 304.9H347.5Q349 304.9 349 306.4V318.5Q349 320 347.5 320H346.1L343.9 322.8L341.7 320H340.3Q338.8 320 338.8 318.5V306.4Q338.8 304.9 340.3 304.9Z" fill="#f0524f"/>
<text x="341.53" y="315" class="lb" textLength="4.75" lengthAdjust="spacingAndGlyphs">S</text>
<path d="M438.4 304.9H445.6Q447.1 304.9 447.1 306.4V318.5Q447.1 320 445.6 320H444.2L442 322.8L439.8 320H438.4Q436.9 320 436.9 318.5V306.4Q436.9 304.9 438.4 304.9Z" fill="#f0524f"/>
<text x="439.63" y="315" class="lb" textLength="4.75" lengthAdjust="spacingAndGlyphs">S</text>
<path d="M574.9 304.9H582.1Q583.6 304.9 583.6 306.4V318.5Q583.6 320 582.1 320H580.7L578.5 322.8L576.3 320H574.9Q573.4 320 573.4 318.5V306.4Q573.4 304.9 574.9 304.9Z" fill="#f0524f"/>
<text x="576.13" y="315" class="lb" textLength="4.75" lengthAdjust="spacingAndGlyphs">S</text>
<path d="M582.8 304.9H590Q591.5 304.9 591.5 306.4V318.5Q591.5 320 590 320H588.6L586.4 322.8L584.2 320H582.8Q581.3 320 581.3 318.5V306.4Q581.3 304.9 582.8 304.9Z" fill="#f0524f"/>
<text x="584.03" y="315" class="lb" textLength="4.75" lengthAdjust="spacingAndGlyphs">S</text>
<path d="M612.4 304.9H619.6Q621.1 304.9 621.1 306.4V318.5Q621.1 320 619.6 320H618.2L616 322.8L613.8 320H612.4Q610.9 320 610.9 318.5V306.4Q610.9 304.9 612.4 304.9Z" fill="#f0524f"/>
<text x="613.63" y="315" class="lb" textLength="4.75" lengthAdjust="spacingAndGlyphs">S</text>
<path d="M631 304.9H638.2Q639.7 304.9 639.7 306.4V318.5Q639.7 320 638.2 320H636.8L634.6 322.8L632.4 320H631Q629.5 320 629.5 318.5V306.4Q629.5 304.9 631 304.9Z" fill="#f0524f"/>
<text x="632.23" y="315" class="lb" textLength="4.75" lengthAdjust="spacingAndGlyphs">S</text>
<path d="M638.7 304.9H645.9Q647.4 304.9 647.4 306.4V318.5Q647.4 320 645.9 320H644.5L642.3 322.8L640.1 320H638.7Q637.2 320 637.2 318.5V306.4Q637.2 304.9 638.7 304.9Z" fill="#f0524f"/>
<text x="639.93" y="315" class="lb" textLength="4.75" lengthAdjust="spacingAndGlyphs">S</text>
<path d="M646.3 304.9H653.5Q655 304.9 655 306.4V318.5Q655 320 653.5 320H652.1L649.9 322.8L647.7 320H646.3Q644.8 320 644.8 318.5V306.4Q644.8 304.9 646.3 304.9Z" fill="#f0524f"/>
<text x="647.53" y="315" class="lb" textLength="4.75" lengthAdjust="spacingAndGlyphs">S</text>
<path d="M654.1 304.9H661.3Q662.8 304.9 662.8 306.4V318.5Q662.8 320 661.3 320H659.9L657.7 322.8L655.5 320H654.1Q652.6 320 652.6 318.5V306.4Q652.6 304.9 654.1 304.9Z" fill="#f0524f"/>
<text x="655.33" y="315" class="lb" textLength="4.75" lengthAdjust="spacingAndGlyphs">S</text>
<path d="M692.1 304.9H699.3Q700.8 304.9 700.8 306.4V318.5Q700.8 320 699.3 320H697.9L695.7 322.8L693.5 320H692.1Q690.6 320 690.6 318.5V306.4Q690.6 304.9 692.1 304.9Z" fill="#f0524f"/>
<text x="693.33" y="315" class="lb" textLength="4.75" lengthAdjust="spacingAndGlyphs">S</text>
<path d="M763.3 304.9H770.5Q772 304.9 772 306.4V318.5Q772 320 770.5 320H769.1L766.9 322.8L764.7 320H763.3Q761.8 320 761.8 318.5V306.4Q761.8 304.9 763.3 304.9Z" fill="#f0524f"/>
<text x="764.53" y="315" class="lb" textLength="4.75" lengthAdjust="spacingAndGlyphs">S</text>
<path d="M771.3 304.9H778.5Q780 304.9 780 306.4V318.5Q780 320 778.5 320H777.1L774.9 322.8L772.7 320H771.3Q769.8 320 769.8 318.5V306.4Q769.8 304.9 771.3 304.9Z" fill="#f0524f"/>
<text x="772.53" y="315" class="lb" textLength="4.75" lengthAdjust="spacingAndGlyphs">S</text>
<path d="M831.8 304.9H839Q840.5 304.9 840.5 306.4V318.5Q840.5 320 839 320H837.6L835.4 322.8L833.2 320H831.8Q830.3 320 830.3 318.5V306.4Q830.3 304.9 831.8 304.9Z" fill="#f0524f"/>
<text x="833.03" y="315" class="lb" textLength="4.75" lengthAdjust="spacingAndGlyphs">S</text>
<path d="M877.2 304.9H884.4Q885.9 304.9 885.9 306.4V318.5Q885.9 320 884.4 320H883L880.8 322.8L878.6 320H877.2Q875.7 320 875.7 318.5V306.4Q875.7 304.9 877.2 304.9Z" fill="#f0524f"/>
<text x="878.43" y="315" class="lb" textLength="4.75" lengthAdjust="spacingAndGlyphs">S</text>
<path d="M79 467.8H80.4L82.6 465.2L84.8 467.8H86.2Q87.7 467.8 87.7 469.3V481.5Q87.7 483 86.2 483H79Q77.5 483 77.5 481.5V469.3Q77.5 467.8 79 467.8Z" fill="#4caf50"/>
<text x="79.72" y="477.9" class="lb" textLength="5.30" lengthAdjust="spacingAndGlyphs">L</text>
<path d="M151.4 467.8H152.8L155 465.2L157.2 467.8H158.6Q160.1 467.8 160.1 469.3V481.5Q160.1 483 158.6 483H151.4Q149.9 483 149.9 481.5V469.3Q149.9 467.8 151.4 467.8Z" fill="#4caf50"/>
<text x="152.12" y="477.9" class="lb" textLength="5.30" lengthAdjust="spacingAndGlyphs">L</text>
<path d="M237.8 467.8H239.2L241.4 465.2L243.6 467.8H245Q246.5 467.8 246.5 469.3V481.5Q246.5 483 245 483H237.8Q236.3 483 236.3 481.5V469.3Q236.3 467.8 237.8 467.8Z" fill="#4caf50"/>
<text x="238.52" y="477.9" class="lb" textLength="5.30" lengthAdjust="spacingAndGlyphs">L</text>
<path d="M268.4 467.8H269.8L272 465.2L274.2 467.8H275.6Q277.1 467.8 277.1 469.3V481.5Q277.1 483 275.6 483H268.4Q266.9 483 266.9 481.5V469.3Q266.9 467.8 268.4 467.8Z" fill="#4caf50"/>
<text x="269.12" y="477.9" class="lb" textLength="5.30" lengthAdjust="spacingAndGlyphs">L</text>
<path d="M302.2 467.8H303.6L305.8 465.2L308 467.8H309.4Q310.9 467.8 310.9 469.3V481.5Q310.9 483 309.4 483H302.2Q300.7 483 300.7 481.5V469.3Q300.7 467.8 302.2 467.8Z" fill="#4caf50"/>
<text x="302.92" y="477.9" class="lb" textLength="5.30" lengthAdjust="spacingAndGlyphs">L</text>
<path d="M309.9 467.8H311.3L313.5 465.2L315.7 467.8H317.1Q318.6 467.8 318.6 469.3V481.5Q318.6 483 317.1 483H309.9Q308.4 483 308.4 481.5V469.3Q308.4 467.8 309.9 467.8Z" fill="#4caf50"/>
<text x="310.62" y="477.9" class="lb" textLength="5.30" lengthAdjust="spacingAndGlyphs">L</text>
<path d="M317.9 467.8H319.3L321.5 465.2L323.7 467.8H325.1Q326.6 467.8 326.6 469.3V481.5Q326.6 483 325.1 483H317.9Q316.4 483 316.4 481.5V469.3Q316.4 467.8 317.9 467.8Z" fill="#4caf50"/>
<text x="318.62" y="477.9" class="lb" textLength="5.30" lengthAdjust="spacingAndGlyphs">L</text>
<path d="M382 467.8H383.4L385.6 465.2L387.8 467.8H389.2Q390.7 467.8 390.7 469.3V481.5Q390.7 483 389.2 483H382Q380.5 483 380.5 481.5V469.3Q380.5 467.8 382 467.8Z" fill="#4caf50"/>
<text x="382.72" y="477.9" class="lb" textLength="5.30" lengthAdjust="spacingAndGlyphs">L</text>
<path d="M514.9 467.8H516.3L518.5 465.2L520.7 467.8H522.1Q523.6 467.8 523.6 469.3V481.5Q523.6 483 522.1 483H514.9Q513.4 483 513.4 481.5V469.3Q513.4 467.8 514.9 467.8Z" fill="#4caf50"/>
<text x="515.62" y="477.9" class="lb" textLength="5.30" lengthAdjust="spacingAndGlyphs">L</text>
<path d="M578.4 467.8H579.8L582 465.2L584.2 467.8H585.6Q587.1 467.8 587.1 469.3V481.5Q587.1 483 585.6 483H578.4Q576.9 483 576.9 481.5V469.3Q576.9 467.8 578.4 467.8Z" fill="#4caf50"/>
<text x="579.12" y="477.9" class="lb" textLength="5.30" lengthAdjust="spacingAndGlyphs">L</text>
<path d="M609.2 467.8H610.6L612.8 465.2L615 467.8H616.4Q617.9 467.8 617.9 469.3V481.5Q617.9 483 616.4 483H609.2Q607.7 483 607.7 481.5V469.3Q607.7 467.8 609.2 467.8Z" fill="#4caf50"/>
<text x="609.92" y="477.9" class="lb" textLength="5.30" lengthAdjust="spacingAndGlyphs">L</text>
<path d="M616.2 467.8H617.6L619.8 465.2L622 467.8H623.4Q624.9 467.8 624.9 469.3V481.5Q624.9 483 623.4 483H616.2Q614.7 483 614.7 481.5V469.3Q614.7 467.8 616.2 467.8Z" fill="#4caf50"/>
<text x="616.92" y="477.9" class="lb" textLength="5.30" lengthAdjust="spacingAndGlyphs">L</text>
<path d="M635.6 467.8H637L639.2 465.2L641.4 467.8H642.8Q644.3 467.8 644.3 469.3V481.5Q644.3 483 642.8 483H635.6Q634.1 483 634.1 481.5V469.3Q634.1 467.8 635.6 467.8Z" fill="#4caf50"/>
<text x="636.32" y="477.9" class="lb" textLength="5.30" lengthAdjust="spacingAndGlyphs">L</text>
<path d="M642.8 467.8H644.2L646.4 465.2L648.6 467.8H650Q651.5 467.8 651.5 469.3V481.5Q651.5 483 650 483H642.8Q641.3 483 641.3 481.5V469.3Q641.3 467.8 642.8 467.8Z" fill="#4caf50"/>
<text x="643.52" y="477.9" class="lb" textLength="5.30" lengthAdjust="spacingAndGlyphs">L</text>
<path d="M650.3 467.8H651.7L653.9 465.2L656.1 467.8H657.5Q659 467.8 659 469.3V481.5Q659 483 657.5 483H650.3Q648.8 483 648.8 481.5V469.3Q648.8 467.8 650.3 467.8Z" fill="#4caf50"/>
<text x="651.02" y="477.9" class="lb" textLength="5.30" lengthAdjust="spacingAndGlyphs">L</text>
<path d="M676.9 467.8H678.3L680.5 465.2L682.7 467.8H684.1Q685.6 467.8 685.6 469.3V481.5Q685.6 483 684.1 483H676.9Q675.4 483 675.4 481.5V469.3Q675.4 467.8 676.9 467.8Z" fill="#4caf50"/>
<text x="677.62" y="477.9" class="lb" textLength="5.30" lengthAdjust="spacingAndGlyphs">L</text>
<path d="M760.6 467.8H762L764.2 465.2L766.4 467.8H767.8Q769.3 467.8 769.3 469.3V481.5Q769.3 483 767.8 483H760.6Q759.1 483 759.1 481.5V469.3Q759.1 467.8 760.6 467.8Z" fill="#4caf50"/>
<text x="761.32" y="477.9" class="lb" textLength="5.30" lengthAdjust="spacingAndGlyphs">L</text>
<path d="M767.9 467.8H769.3L771.5 465.2L773.7 467.8H775.1Q776.6 467.8 776.6 469.3V481.5Q776.6 483 775.1 483H767.9Q766.4 483 766.4 481.5V469.3Q766.4 467.8 767.9 467.8Z" fill="#4caf50"/>
<text x="768.62" y="477.9" class="lb" textLength="5.30" lengthAdjust="spacingAndGlyphs">L</text>
<path d="M782.8 467.8H784.2L786.4 465.2L788.6 467.8H790Q791.5 467.8 791.5 469.3V481.5Q791.5 483 790 483H782.8Q781.3 483 781.3 481.5V469.3Q781.3 467.8 782.8 467.8Z" fill="#4caf50"/>
<text x="783.52" y="477.9" class="lb" textLength="5.30" lengthAdjust="spacingAndGlyphs">L</text>
<path d="M873.8 467.8H875.2L877.4 465.2L879.6 467.8H881Q882.5 467.8 882.5 469.3V481.5Q882.5 483 881 483H873.8Q872.3 483 872.3 481.5V469.3Q872.3 467.8 873.8 467.8Z" fill="#4caf50"/>
<text x="874.52" y="477.9" class="lb" textLength="5.30" lengthAdjust="spacingAndGlyphs">L</text>
<path d="M896.3 467.8H897.7L899.9 465.2L902.1 467.8H903.5Q905 467.8 905 469.3V481.5Q905 483 903.5 483H896.3Q894.8 483 894.8 481.5V469.3Q894.8 467.8 896.3 467.8Z" fill="#4caf50"/>
<text x="897.02" y="477.9" class="lb" textLength="5.30" lengthAdjust="spacingAndGlyphs">L</text>
<rect x="0" y="274.3" width="1024" height="1" fill="#262a36"/>
<rect x="0" y="507" width="1024" height="1" fill="#262a35"/>
<rect x="0" y="525.4" width="1024" height="1.2" fill="#50535e"/>
<rect x="0" y="545" width="1024" height="1" fill="#2a2e39"/>
<rect x="0" y="546" width="1024" height="2" fill="#000"/>
<rect x="979.4" y="0" width="1.2" height="546" fill="#50535e"/>
<path d="M982.5 0V14Q982.5 16.5 985 16.5H1024" fill="none" stroke="#2a2e39" stroke-width="1"/>
<svg x="0" y="526" width="980" height="19" overflow="hidden"><text x="979.6" y="13.3" class="tx">2</text></svg>
<circle cx="8.6" cy="6.6" r="6.4" fill="#2a2e39"/>
<text x="8.6" y="9.7" style="font:8.5px 'Liberation Sans',sans-serif;fill:#5d606b;text-anchor:middle">B</text>
<text x="17.83" y="10.3" style="font-size:11.2px;fill:#d1d4dc;stroke:#d1d4dc" class="t" textLength="39.01" lengthAdjust="spacingAndGlyphs">Bitcoin</text>
<text x="60.90" y="10.3" style="font-size:11.2px;fill:#d1d4dc;stroke:#d1d4dc" class="t" textLength="3.90" lengthAdjust="spacingAndGlyphs">/</text>
<text x="69.71" y="10.3" style="font-size:11.2px;fill:#d1d4dc;stroke:#d1d4dc" class="t" textLength="22.44" lengthAdjust="spacingAndGlyphs">U.S.</text>
<text x="95.94" y="10.3" style="font-size:11.2px;fill:#d1d4dc;stroke:#d1d4dc" class="t" textLength="30.45" lengthAdjust="spacingAndGlyphs">Dollar</text>
<text x="136.16" y="10.3" style="font-size:11.2px;fill:#d1d4dc;stroke:#d1d4dc" class="t" textLength="12.25" lengthAdjust="spacingAndGlyphs">1h</text>
<text x="158.14" y="10.3" style="font-size:11.2px;fill:#d1d4dc;stroke:#d1d4dc" class="t" textLength="61.24" lengthAdjust="spacingAndGlyphs">BINANCEUS</text>
<text x="131.1" y="11.0" style="font-size:13px;font-weight:bold;fill:#d1d4dc;text-anchor:middle" class="t">·</text>
<text x="153.6" y="11.0" style="font-size:13px;font-weight:bold;fill:#d1d4dc;text-anchor:middle" class="t">·</text>
<text x="225.37" y="10.3" style="font-size:11.2px;fill:#d1d4dc;stroke:#d1d4dc" class="t" textLength="7.06" lengthAdjust="spacingAndGlyphs">O</text>
<text x="234.04" y="10.3" style="font-size:11.2px;fill:#ef5350;stroke:#ef5350" class="t" textLength="39.44" lengthAdjust="spacingAndGlyphs">38494.52</text>
<text x="278.55" y="10.3" style="font-size:11.2px;fill:#d1d4dc;stroke:#d1d4dc" class="t" textLength="7.50" lengthAdjust="spacingAndGlyphs">H</text>
<text x="286.84" y="10.3" style="font-size:11.2px;fill:#ef5350;stroke:#ef5350" class="t" textLength="39.51" lengthAdjust="spacingAndGlyphs">38676.09</text>
<text x="330.97" y="10.3" style="font-size:11.2px;fill:#d1d4dc;stroke:#d1d4dc" class="t" textLength="4.92" lengthAdjust="spacingAndGlyphs">L</text>
<text x="337.24" y="10.3" style="font-size:11.2px;fill:#ef5350;stroke:#ef5350" class="t" textLength="39.78" lengthAdjust="spacingAndGlyphs">38391.66</text>
<text x="381.26" y="10.3" style="font-size:11.2px;fill:#d1d4dc;stroke:#d1d4dc" class="t" textLength="6.27" lengthAdjust="spacingAndGlyphs">C</text>
<text x="388.39" y="10.3" style="font-size:11.2px;fill:#ef5350;stroke:#ef5350" class="t" textLength="39.42" lengthAdjust="spacingAndGlyphs">38484.18</text>
<text x="432.43" y="10.3" style="font-size:11.2px;fill:#ef5350;stroke:#ef5350" class="t" textLength="24.30" lengthAdjust="spacingAndGlyphs">−6.83</text>
<text x="460.44" y="10.3" style="font-size:11.2px;fill:#ef5350;stroke:#ef5350" class="t" textLength="37.13" lengthAdjust="spacingAndGlyphs">(−0.02%)</text>
<text x="1.86" y="28.6" style="font-size:11px;fill:#d1d4dc;stroke:#d1d4dc" class="t" textLength="14.10" lengthAdjust="spacingAndGlyphs">Vol</text>
<text x="18.42" y="28.6" style="font-size:11px;fill:#d1d4dc;stroke:#d1d4dc" class="t" textLength="9.18" lengthAdjust="spacingAndGlyphs">51</text>
<text x="34.79" y="28.6" style="font-size:11px;fill:#ef5350;stroke:#ef5350" class="t" textLength="10.30" lengthAdjust="spacingAndGlyphs">45</text>
<text x="49.24" y="28.6" style="font-size:11px;fill:#e8d93c;stroke:#e8d93c" class="t" textLength="10.22" lengthAdjust="spacingAndGlyphs">22</text>
<rect x="1.8" y="36.6" width="22.2" height="14.2" rx="2" fill="none" stroke="#363a45" stroke-width="1"/>
<path d="M9.5 45.2L12.9 42.2L16.3 45.2" fill="none" stroke="#b2b5be" stroke-width="1.3"/>
<text x="1.22" y="290.6" style="font-size:11px;fill:#d1d4dc;stroke:#d1d4dc" class="t" textLength="14.74" lengthAdjust="spacingAndGlyphs">MC</text>
<text x="19.45" y="290.6" style="font-size:11px;fill:#d1d4dc;stroke:#d1d4dc" class="t" textLength="38.13" lengthAdjust="spacingAndGlyphs">2.04.lite</text>
<text x="60.98" y="290.6" style="font-size:11px;fill:#d1d4dc;stroke:#d1d4dc" class="t" textLength="19.71" lengthAdjust="spacingAndGlyphs">edit</text>
<text x="82.84" y="290.6" style="font-size:11px;fill:#d1d4dc;stroke:#d1d4dc" class="t" textLength="10.11" lengthAdjust="spacingAndGlyphs">20</text>
<text x="96.36" y="290.6" style="font-size:11px;fill:#d1d4dc;stroke:#d1d4dc" class="t" textLength="5.98" lengthAdjust="spacingAndGlyphs">2</text>
<text x="105.90" y="290.6" style="font-size:11px;fill:#d1d4dc;stroke:#d1d4dc" class="t" textLength="10.27" lengthAdjust="spacingAndGlyphs">14</text>
<text x="119.83" y="290.6" style="font-size:11px;fill:#d1d4dc;stroke:#d1d4dc" class="t" textLength="10.12" lengthAdjust="spacingAndGlyphs">70</text>
<text x="133.66" y="290.6" style="font-size:11px;fill:#d1d4dc;stroke:#d1d4dc" class="t" textLength="9.99" lengthAdjust="spacingAndGlyphs">30</text>
<text x="147.97" y="290.6" style="font-size:11px;fill:#d1d4dc;stroke:#d1d4dc" class="t" textLength="9.17" lengthAdjust="spacingAndGlyphs">14</text>
<text x="161.41" y="290.6" style="font-size:11px;fill:#d1d4dc;stroke:#d1d4dc" class="t" textLength="10.09" lengthAdjust="spacingAndGlyphs">86</text>
<text x="175.13" y="290.6" style="font-size:11px;fill:#d1d4dc;stroke:#d1d4dc" class="t" textLength="5.16" lengthAdjust="spacingAndGlyphs">5</text>
<text x="183.44" y="290.6" style="font-size:11px;fill:#d1d4dc;stroke:#d1d4dc" class="t" textLength="25.34" lengthAdjust="spacingAndGlyphs">close</text>
<text x="212.50" y="290.6" style="font-size:11px;fill:#d1d4dc;stroke:#d1d4dc" class="t" textLength="10.27" lengthAdjust="spacingAndGlyphs">14</text>
<text x="225.92" y="290.6" style="font-size:11px;fill:#d1d4dc;stroke:#d1d4dc" class="t" textLength="10.71" lengthAdjust="spacingAndGlyphs">26</text>
<text x="240.32" y="290.6" style="font-size:11px;fill:#d1d4dc;stroke:#d1d4dc" class="t" textLength="9.93" lengthAdjust="spacingAndGlyphs">12</text>
<text x="253.75" y="290.6" style="font-size:11px;fill:#d1d4dc;stroke:#d1d4dc" class="t" textLength="5.30" lengthAdjust="spacingAndGlyphs">9</text>
<text x="262.45" y="290.6" style="font-size:11px;fill:#d1d4dc;stroke:#d1d4dc" class="t" textLength="24.93" lengthAdjust="spacingAndGlyphs">close</text>
<text x="291.25" y="290.6" style="font-size:11px;fill:#d1d4dc;stroke:#d1d4dc" class="t" textLength="24.93" lengthAdjust="spacingAndGlyphs">close</text>
<text x="319.52" y="290.6" style="font-size:11px;fill:#d1d4dc;stroke:#d1d4dc" class="t" textLength="10.69" lengthAdjust="spacingAndGlyphs">25</text>
<text x="333.77" y="290.6" style="font-size:11px;fill:#d1d4dc;stroke:#d1d4dc" class="t" textLength="14.01" lengthAdjust="spacingAndGlyphs">-30</text>
<text x="350.59" y="290.6" style="font-size:11px;fill:#d1d4dc;stroke:#d1d4dc" class="t" textLength="5.21" lengthAdjust="spacingAndGlyphs">8</text>
<text x="359.59" y="290.6" style="font-size:11px;fill:#d1d4dc;stroke:#d1d4dc" class="t" textLength="10.31" lengthAdjust="spacingAndGlyphs">16</text>
<text x="373.22" y="290.6" style="font-size:11px;fill:#d1d4dc;stroke:#d1d4dc" class="t" textLength="9.91" lengthAdjust="spacingAndGlyphs">11</text>
<text x="386.85" y="290.6" style="font-size:11px;fill:#d1d4dc;stroke:#d1d4dc" class="t" textLength="14.50" lengthAdjust="spacingAndGlyphs">hl2</text>
<text x="404.20" y="290.6" style="font-size:11px;fill:#d1d4dc;stroke:#d1d4dc" class="t" textLength="10.99" lengthAdjust="spacingAndGlyphs">24</text>
<text x="418.57" y="290.6" style="font-size:11px;fill:#d1d4dc;stroke:#d1d4dc" class="t" textLength="26.50" lengthAdjust="spacingAndGlyphs">10000</text>
<text x="450.58" y="290.6" style="font-size:11px;fill:#4caf50;stroke:#4caf50" class="t" textLength="24.13" lengthAdjust="spacingAndGlyphs">45.95</text>
<text x="478.59" y="290.6" style="font-size:11px;fill:#00c462;stroke:#00c462" class="t" textLength="25.49" lengthAdjust="spacingAndGlyphs">20.79</text>
<text x="506.80" y="290.6" style="font-size:11px;fill:#b2b5be;stroke:#b2b5be" class="t" textLength="12.01" lengthAdjust="spacingAndGlyphs">∅</text>
<text x="521.45" y="290.6" style="font-size:11px;fill:#b2b5be;stroke:#b2b5be" class="t" textLength="11.61" lengthAdjust="spacingAndGlyphs">∅</text>
<text x="985.80" y="30.05" style="font-size:10px;fill:#b2b5be;stroke:#b2b5be" class="t" textLength="36.04" lengthAdjust="spacingAndGlyphs">40800.00</text>
<text x="985.80" y="55.05" style="font-size:10px;fill:#b2b5be;stroke:#b2b5be" class="t" textLength="36.04" lengthAdjust="spacingAndGlyphs">40400.00</text>
<text x="985.80" y="79.05" style="font-size:10px;fill:#b2b5be;stroke:#b2b5be" class="t" textLength="36.04" lengthAdjust="spacingAndGlyphs">40000.00</text>
<text x="985.67" y="104.05" style="font-size:10px;fill:#b2b5be;stroke:#b2b5be" class="t" textLength="36.17" lengthAdjust="spacingAndGlyphs">39600.00</text>
<text x="985.67" y="135.75" style="font-size:10px;fill:#b2b5be;stroke:#b2b5be" class="t" textLength="36.17" lengthAdjust="spacingAndGlyphs">39100.00</text>
<text x="985.67" y="160.95" style="font-size:10px;fill:#b2b5be;stroke:#b2b5be" class="t" textLength="36.17" lengthAdjust="spacingAndGlyphs">38700.00</text>
<text x="985.67" y="185.95" style="font-size:10px;fill:#b2b5be;stroke:#b2b5be" class="t" textLength="36.17" lengthAdjust="spacingAndGlyphs">38300.00</text>
<text x="985.67" y="212.65" style="font-size:10px;fill:#b2b5be;stroke:#b2b5be" class="t" textLength="36.17" lengthAdjust="spacingAndGlyphs">37900.00</text>
<text x="985.67" y="237.95" style="font-size:10px;fill:#b2b5be;stroke:#b2b5be" class="t" textLength="36.17" lengthAdjust="spacingAndGlyphs">37500.00</text>
<text x="985.67" y="264.95" style="font-size:10px;fill:#b2b5be;stroke:#b2b5be" class="t" textLength="36.17" lengthAdjust="spacingAndGlyphs">37100.00</text>
<text x="986.45" y="290.95" style="font-size:10px;fill:#b2b5be;stroke:#b2b5be" class="t" textLength="26.08" lengthAdjust="spacingAndGlyphs">120.00</text>
<text x="985.61" y="327.95" style="font-size:10px;fill:#b2b5be;stroke:#b2b5be" class="t" textLength="22.44" lengthAdjust="spacingAndGlyphs">80.00</text>
<text x="985.80" y="364.35" style="font-size:10px;fill:#b2b5be;stroke:#b2b5be" class="t" textLength="22.25" lengthAdjust="spacingAndGlyphs">40.00</text>
<text x="985.44" y="401.25" style="font-size:10px;fill:#b2b5be;stroke:#b2b5be" class="t" textLength="18.13" lengthAdjust="spacingAndGlyphs">0.00</text>
<text x="985.58" y="438.85" style="font-size:10px;fill:#b2b5be;stroke:#b2b5be" class="t" textLength="26.99" lengthAdjust="spacingAndGlyphs">-40.00</text>
<text x="985.58" y="475.75" style="font-size:10px;fill:#b2b5be;stroke:#b2b5be" class="t" textLength="26.99" lengthAdjust="spacingAndGlyphs">-80.00</text>
<text x="985.44" y="520.85" style="font-size:10px;fill:#b2b5be;stroke:#b2b5be" class="t" textLength="18.13" lengthAdjust="spacingAndGlyphs">0.00</text>
<text x="985.69" y="10.8" style="font-size:11px;fill:#b2b5be;stroke:#b2b5be" class="t" textLength="16.69" lengthAdjust="spacingAndGlyphs">USD</text>
<text x="66.14" y="539.6" style="font-size:10px;fill:#c3c6cd;stroke:#c3c6cd" class="t" textLength="10.11" lengthAdjust="spacingAndGlyphs">22</text>
<text x="156.90" y="539.6" style="font-size:10px;fill:#c3c6cd;stroke:#c3c6cd" class="t" textLength="10.05" lengthAdjust="spacingAndGlyphs">23</text>
<text x="247.65" y="539.6" style="font-size:10px;fill:#c3c6cd;stroke:#c3c6cd" class="t" textLength="9.91" lengthAdjust="spacingAndGlyphs">24</text>
<text x="338.40" y="539.6" style="font-size:10px;fill:#c3c6cd;stroke:#c3c6cd" class="t" textLength="10.03" lengthAdjust="spacingAndGlyphs">25</text>
<text x="429.15" y="539.6" style="font-size:10px;fill:#c3c6cd;stroke:#c3c6cd" class="t" textLength="10.05" lengthAdjust="spacingAndGlyphs">26</text>
<text x="519.89" y="539.6" style="font-size:10px;fill:#c3c6cd;stroke:#c3c6cd" class="t" textLength="10.11" lengthAdjust="spacingAndGlyphs">27</text>
<text x="610.65" y="539.6" style="font-size:10px;fill:#c3c6cd;stroke:#c3c6cd" class="t" textLength="10.05" lengthAdjust="spacingAndGlyphs">28</text>
<text x="701.39" y="539.6" style="font-size:10px;fill:#c3c6cd;stroke:#c3c6cd" class="t" textLength="10.09" lengthAdjust="spacingAndGlyphs">29</text>
<text x="792.26" y="539.6" style="font-size:10px;fill:#c3c6cd;stroke:#c3c6cd" class="t" textLength="9.89" lengthAdjust="spacingAndGlyphs">30</text>
<text x="879.24" y="539.4" style="font-size:10px;font-weight:bold;fill:#d1d4dc;stroke:#d1d4dc" class="t" textLength="17.86" lengthAdjust="spacingAndGlyphs">May</text>
</svg>
</body></html>
